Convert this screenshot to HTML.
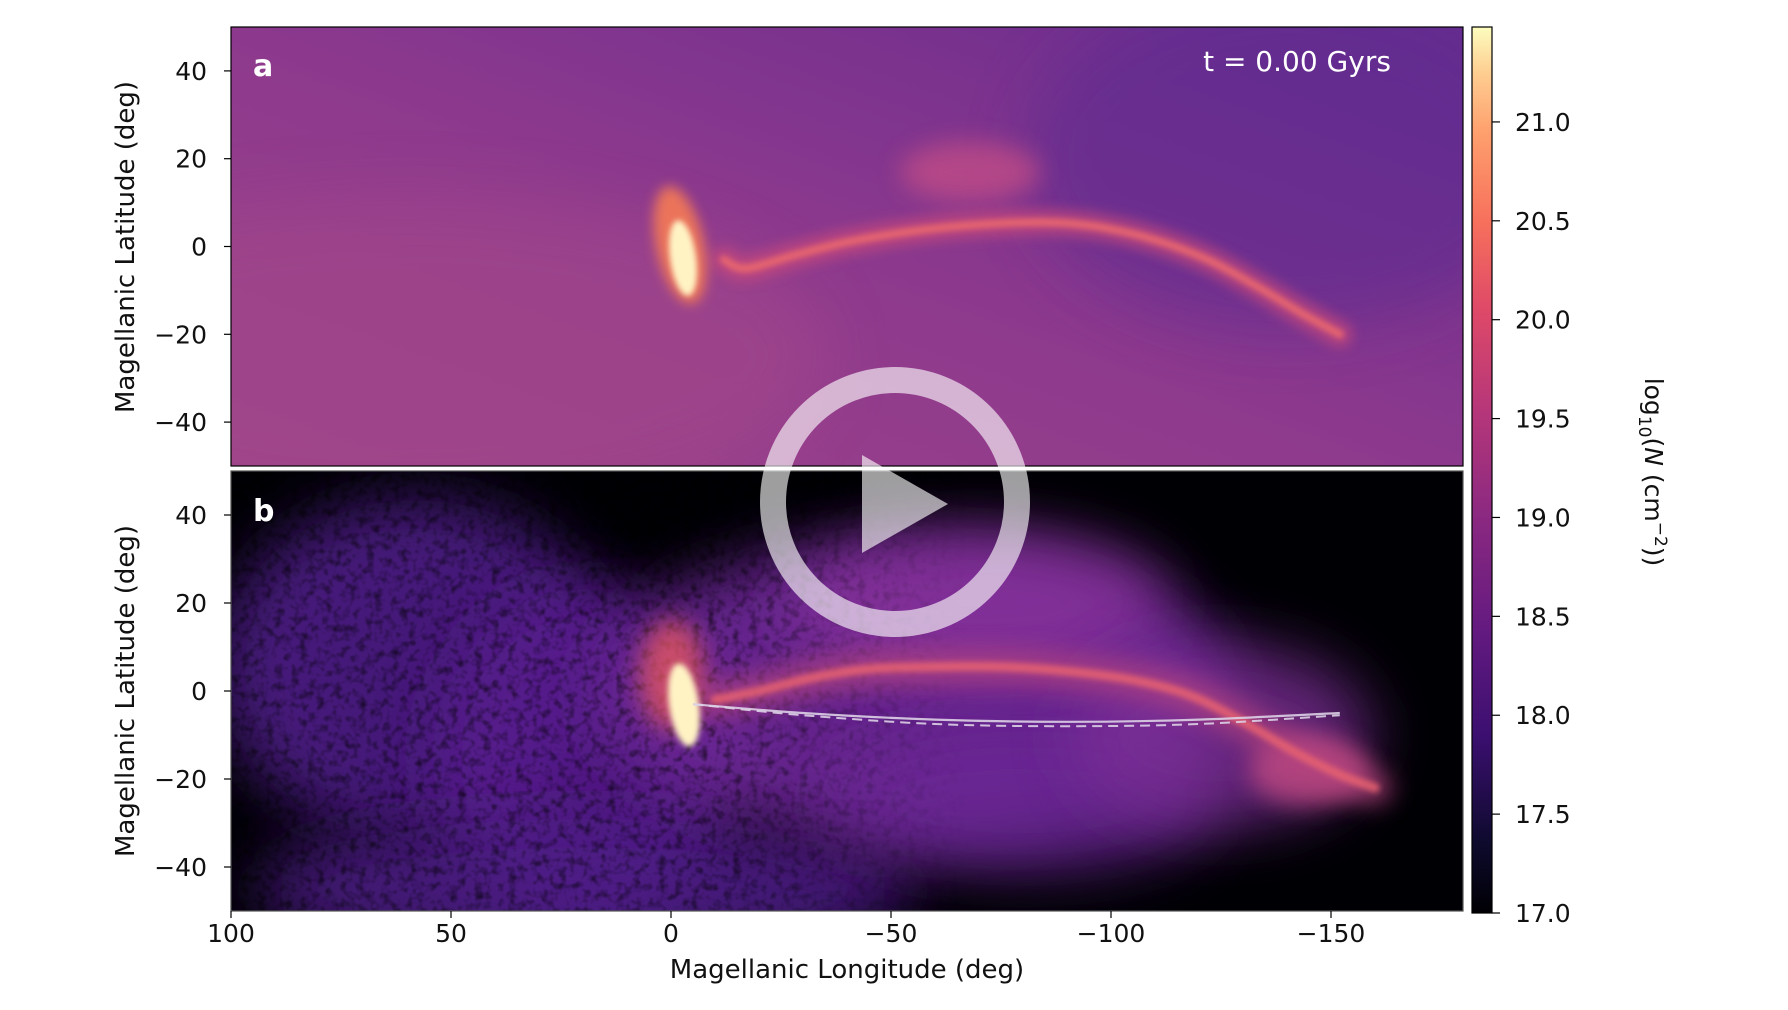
<!DOCTYPE html>
<html><head><meta charset="utf-8">
<style>
html,body{margin:0;padding:0;background:#fff;}
body{width:1788px;height:1005px;overflow:hidden;}
svg text{font-family:"DejaVu Sans","Liberation Sans",sans-serif;}
</style></head>
<body>
<svg id="fig" width="1788" height="1005" viewBox="0 0 1788 1005" xmlns="http://www.w3.org/2000/svg">
<defs>
  <linearGradient id="bgA" x1="0" y1="1" x2="1" y2="0">
    <stop offset="0" stop-color="#9c4289"/>
    <stop offset="0.45" stop-color="#8f3a8d"/>
    <stop offset="1" stop-color="#682c8f"/>
  </linearGradient>
  <linearGradient id="cmap" x1="0" y1="1" x2="0" y2="0">
    <stop offset="0" stop-color="#000004"/>
    <stop offset="0.08" stop-color="#0e0a2e"/>
    <stop offset="0.2" stop-color="#3b0f70"/>
    <stop offset="0.32" stop-color="#641a80"/>
    <stop offset="0.45" stop-color="#8c2981"/>
    <stop offset="0.57" stop-color="#b73779"/>
    <stop offset="0.68" stop-color="#de4968"/>
    <stop offset="0.78" stop-color="#f7705c"/>
    <stop offset="0.88" stop-color="#fe9f6d"/>
    <stop offset="0.95" stop-color="#fecf92"/>
    <stop offset="1" stop-color="#fcfdbf"/>
  </linearGradient>
  <linearGradient id="fadeG" x1="0" y1="0" x2="1" y2="0">
    <stop offset="0" stop-color="#fff"/>
    <stop offset="0.4" stop-color="#fff"/>
    <stop offset="0.6" stop-color="#000"/>
    <stop offset="1" stop-color="#000"/>
  </linearGradient>
  <mask id="fadeM" maskUnits="userSpaceOnUse" x="231" y="471" width="1232" height="440">
    <rect x="231" y="471" width="1232" height="440" fill="url(#fadeG)"/>
  </mask>
  <clipPath id="clipA"><rect x="231" y="27" width="1232" height="439"/></clipPath>
  <clipPath id="clipB"><rect x="231" y="471" width="1232" height="440"/></clipPath>
  <filter id="b30" x="-50%" y="-50%" width="200%" height="200%"><feGaussianBlur stdDeviation="30"/></filter>
  <filter id="b12" x="-50%" y="-50%" width="200%" height="200%"><feGaussianBlur stdDeviation="12"/></filter>
  <filter id="b6" x="-50%" y="-50%" width="200%" height="200%"><feGaussianBlur stdDeviation="6"/></filter>
  <filter id="b3" x="-50%" y="-50%" width="200%" height="200%"><feGaussianBlur stdDeviation="3"/></filter>
  <filter id="grain" x="0" y="0" width="100%" height="100%">
    <feTurbulence type="fractalNoise" baseFrequency="0.12" numOctaves="2" seed="4"/>
    <feColorMatrix type="matrix" values="0 0 0 0 0  0 0 0 0 0  0 0 0 0 0  0 0 0 2.2 -1.0"/>
    <feComposite in2="SourceGraphic" operator="in"/>
  </filter>
</defs>
<g id="panelA" clip-path="url(#clipA)"></g>
<g id="panelB" clip-path="url(#clipB)"></g>
<g id="axes"></g>
<g id="cbar"></g>
<g id="play" opacity="0.62">
  <circle cx="895" cy="502" r="122" fill="none" stroke="#ffffff" stroke-width="26"/>
  <polygon points="862,455 862,553 948,504" fill="#ffffff"/>
</g>
</svg>
<script>
// ---- data ----
const xTicks = [100, 50, 0, -50, -100, -150];
const yTicks = [40, 20, 0, -20, -40];
const cbTicks = [17.0, 17.5, 18.0, 18.5, 19.0, 19.5, 20.0, 20.5, 21.0];
const streamLonA = [-12, -17, -28, -40, -55, -70, -85, -97, -110, -122, -133, -143, -152];
const streamLatA = [-3, -5, -2, 1, 3.5, 5, 5.5, 4.5, 1.5, -3, -9, -15, -20];
const streamLonB = [-10, -20, -32, -45, -60, -75, -90, -105, -118, -130, -142, -152, -160];
const streamLatB = [-2, 0, 3, 5, 5.5, 5.5, 4.5, 2.5, -1, -7, -14, -19, -22];
const lineLon = [-5, -30, -60, -90, -120, -152];
const lineLat = [-3, -5, -6.5, -7, -6.5, -5];
const dashLat = [-3, -5.5, -7.5, -8, -7.5, -5.5];

// ---- scales ----
const X = lon => 231 + (100 - lon) * 1232 / 280;
const YA = lat => 27 + (50 - lat) * 439 / 100;
const YB = lat => 471 + (50 - lat) * 440 / 100;
const CB = v => 913 - (v - 17.0) * 886 / 4.48;
const NS = 'http://www.w3.org/2000/svg';
function mk(tag, attrs, parent) {
  const e = document.createElementNS(NS, tag);
  for (const k in attrs) e.setAttribute(k, attrs[k]);
  parent.appendChild(e);
  return e;
}
function pathFrom(lons, lats, Y) {
  const p = lons.map((l, i) => [X(l), Y(lats[i])]);
  let d = 'M' + p[0][0].toFixed(1) + ',' + p[0][1].toFixed(1);
  for (let i = 0; i < p.length - 1; i++) {
    const p0 = p[Math.max(0, i - 1)], p1 = p[i], p2 = p[i + 1], p3 = p[Math.min(p.length - 1, i + 2)];
    const c1 = [p1[0] + (p2[0] - p0[0]) / 6, p1[1] + (p2[1] - p0[1]) / 6];
    const c2 = [p2[0] - (p3[0] - p1[0]) / 6, p2[1] - (p3[1] - p1[1]) / 6];
    d += ' C' + c1.map(v => v.toFixed(1)).join(',') + ' ' + c2.map(v => v.toFixed(1)).join(',') + ' ' + p2.map(v => v.toFixed(1)).join(',');
  }
  return d;
}

// ---- panel a ----
const A = document.getElementById('panelA');
mk('rect', {x: 231, y: 27, width: 1232, height: 439, fill: 'url(#bgA)'}, A);
mk('ellipse', {cx: X(60), cy: YA(-25), rx: 420, ry: 160, fill: '#a4488a', opacity: 0.5, filter: 'url(#b30)'}, A);
mk('ellipse', {cx: X(-140), cy: YA(20), rx: 260, ry: 170, fill: '#5c2a90', opacity: 0.55, filter: 'url(#b30)'}, A);
mk('ellipse', {cx: X(-68), cy: YA(17), rx: 70, ry: 30, fill: '#c04c86', opacity: 0.8, filter: 'url(#b12)'}, A);
const sA1 = mk('path', {d: pathFrom(streamLonA, streamLatA, YA), fill: 'none', stroke: '#c94a7c', 'stroke-width': 26, 'stroke-linecap': 'round', opacity: 0.7, filter: 'url(#b6)'}, A);

const sA2 = mk('path', {d: pathFrom(streamLonA, streamLatA, YA), fill: 'none', stroke: '#ee6a6c', 'stroke-width': 8, 'stroke-linecap': 'round', opacity: 0.85, filter: 'url(#b3)'}, A);

mk('ellipse', {cx: 680, cy: 245, rx: 24, ry: 60, fill: '#f57a55', opacity: 0.9, filter: 'url(#b6)', transform: 'rotate(-12 680 245)'}, A);
const lmcA = mk('ellipse', {cx: 683, cy: 258, rx: 13, ry: 38, fill: '#fff3c4', filter: 'url(#b3)', transform: 'rotate(-8 683 258)'}, A);

mk('text', {x: 253, y: 76, 'font-size': 30, 'font-weight': 'bold', fill: '#ffffff'}, A).textContent = 'a';
const tl = mk('text', {x: 1297, y: 71, 'font-size': 28, fill: '#ffffff', 'text-anchor': 'middle'}, A);
tl.textContent = 't = 0.00 Gyrs';


// ---- panel b ----
const B = document.getElementById('panelB');
mk('rect', {x: 231, y: 471, width: 1232, height: 440, fill: '#000004'}, B);
const gB = mk('g', {}, B);
mk('ellipse', {cx: X(58), cy: YB(5), rx: 200, ry: 170, fill: '#4d1a86', opacity: 0.9, filter: 'url(#b30)'}, gB);
mk('ellipse', {cx: X(20), cy: YB(-15), rx: 150, ry: 170, fill: '#561c8c', opacity: 0.9, filter: 'url(#b30)'}, gB);
mk('ellipse', {cx: X(20), cy: YB(-45), rx: 330, ry: 70, fill: '#4e1a86', opacity: 0.9, filter: 'url(#b30)'}, gB);
mk('ellipse', {cx: X(-55), cy: YB(0), rx: 320, ry: 150, fill: '#6a2594', opacity: 0.95, filter: 'url(#b30)'}, gB);
mk('ellipse', {cx: X(-70), cy: YB(20), rx: 190, ry: 70, fill: '#86309a', opacity: 0.85, filter: 'url(#b30)'}, gB);
mk('ellipse', {cx: X(-80), cy: YB(-25), rx: 200, ry: 70, fill: '#6a2594', opacity: 0.8, filter: 'url(#b30)'}, gB);
mk('ellipse', {cx: X(-125), cy: YB(-10), rx: 150, ry: 90, fill: '#7a2e95', opacity: 0.8, filter: 'url(#b30)'}, gB);
mk('ellipse', {cx: X(-145), cy: YB(-18), rx: 60, ry: 35, fill: '#c04a82', opacity: 0.8, filter: 'url(#b12)'}, gB);
const grainR = mk('rect', {x: 231, y: 471, width: 1232, height: 440, fill: '#000004', filter: 'url(#grain)', opacity: 0.6, mask: 'url(#fadeM)'}, B);

const sB1 = mk('path', {d: pathFrom(streamLonB, streamLatB, YB), fill: 'none', stroke: '#b8447f', 'stroke-width': 34, 'stroke-linecap': 'round', opacity: 0.7, filter: 'url(#b12)'}, B);

const sB2 = mk('path', {d: pathFrom(streamLonB, streamLatB, YB), fill: 'none', stroke: '#ea6470', 'stroke-width': 9, 'stroke-linecap': 'round', opacity: 0.85, filter: 'url(#b3)'}, B);

mk('ellipse', {cx: 672, cy: 675, rx: 32, ry: 55, fill: '#e8585e', opacity: 0.75, filter: 'url(#b12)'}, B);
const lmcB = mk('ellipse', {cx: 684, cy: 705, rx: 15, ry: 42, fill: '#fff3c4', filter: 'url(#b3)', transform: 'rotate(-8 684 705)'}, B);

const solid = mk('path', {d: pathFrom(lineLon, lineLat, YB), fill: 'none', stroke: '#dcd0e6', 'stroke-width': 2.2, opacity: 0.9}, B);

const dashed = mk('path', {d: pathFrom(lineLon, dashLat, YB), fill: 'none', stroke: '#dcd0e6', 'stroke-width': 2, 'stroke-dasharray': '10 6', opacity: 0.9}, B);

mk('text', {x: 253, y: 521, 'font-size': 30, 'font-weight': 'bold', fill: '#ffffff'}, B).textContent = 'b';

// ---- axes ----
const AX = document.getElementById('axes');
mk('line', {x1: 231, y1: 468.5, x2: 1463, y2: 468.5, stroke: '#ffffff', 'stroke-width': 4}, AX);
mk('rect', {x: 231, y: 27, width: 1232, height: 439, fill: 'none', stroke: '#000', 'stroke-width': 1.2}, AX);
mk('rect', {x: 231, y: 471, width: 1232, height: 440, fill: 'none', stroke: '#555', 'stroke-width': 1.2}, AX);
[YA, YB].forEach((Y, p) => {
  yTicks.forEach(v => {
    const t = mk('line', {x1: 224, y1: Y(v), x2: 231, y2: Y(v), stroke: '#000', 'stroke-width': 1.2}, AX);
    
    const l = mk('text', {x: 207, y: Y(v) + 9, 'font-size': 25, 'text-anchor': 'end', fill: '#111'}, AX);
    l.textContent = v < 0 ? '\u2212' + Math.abs(v) : String(v);
    
  });
  const yl = mk('text', {x: 0, y: 0, 'font-size': 26, 'text-anchor': 'middle', fill: '#111', transform: 'translate(134 ' + (p ? 691 : 247) + ') rotate(-90)'}, AX);
  yl.textContent = 'Magellanic Latitude (deg)';
  
});
xTicks.forEach(v => {
  const t = mk('line', {x1: X(v), y1: 911, x2: X(v), y2: 918, stroke: '#000', 'stroke-width': 1.2}, AX);
  
  const l = mk('text', {x: X(v), y: 942, 'font-size': 25, 'text-anchor': 'middle', fill: '#111'}, AX);
  l.textContent = v < 0 ? '\u2212' + Math.abs(v) : String(v);
  
});
const xl = mk('text', {x: 847, y: 978, 'font-size': 26, 'text-anchor': 'middle', fill: '#111'}, AX);
xl.textContent = 'Magellanic Longitude (deg)';


// ---- colorbar ----
const C = document.getElementById('cbar');
mk('rect', {x: 1472, y: 27, width: 20, height: 886, fill: 'url(#cmap)', stroke: '#000', 'stroke-width': 1.2}, C);
cbTicks.forEach(v => {
  const t = mk('line', {x1: 1492, y1: CB(v), x2: 1500, y2: CB(v), stroke: '#000', 'stroke-width': 1.2}, C);
  
  const l = mk('text', {x: 1515, y: CB(v) + 9, 'font-size': 25, fill: '#111'}, C);
  l.textContent = v.toFixed(1);
  
});
const cl = mk('text', {x: 0, y: 0, 'font-size': 25, 'text-anchor': 'middle', fill: '#111', transform: 'translate(1645 472) rotate(90)'}, C);
cl.innerHTML = 'log<tspan font-size="17" dy="6">10</tspan><tspan dy="-6">(</tspan><tspan font-style="italic">N</tspan> (cm<tspan font-size="17" dy="-10">\u22122</tspan><tspan dy="10">))</tspan>';

</script>
</body></html>
